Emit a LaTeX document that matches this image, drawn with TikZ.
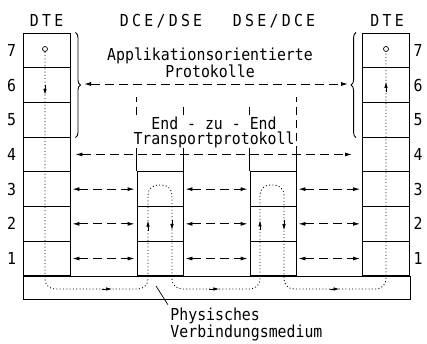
\documentclass[tikz,border=0pt]{standalone}
\usepackage{fontspec}
\newfontfamily\dinfont[FakeStretch=0.9]{DejaVu Sans Mono}
\newfontfamily\dinwide[FakeStretch=0.9,LetterSpace=20]{DejaVu Sans Mono}
\usetikzlibrary{arrows.meta,calc,decorations.pathreplacing,decorations.markings}
\newcommand\flowtip{\draw[solid, line width=0.8pt, -{Latex[length=6pt,width=3.5pt]}] (-10pt,0pt) -- (0pt,0pt);}

\begin{document}
\begin{tikzpicture}[x=1pt, y=-1pt, line width=0.9pt,
    cell/.style={draw, minimum width=47pt, minimum height=34.7pt, inner sep=0pt},
    relay/.style={cell, minimum width=46pt},
    num/.style={font=\dinfont\fontsize{16.5}{18}\selectfont},
    head/.style={font=\dinwide\fontsize{16.5}{18}\selectfont, anchor=base},
    txt/.style={font=\dinfont\fontsize{16.5}{15}\selectfont, align=center, inner sep=0pt},
    proto/.style={dash pattern=on 9pt off 5pt, {Latex[length=7pt,width=4pt]}-{Latex[length=7pt,width=4pt]}},
    lane/.style={dash pattern=on 8pt off 5pt},
    brc/.style={decorate, decoration={brace, amplitude=5pt}},
    port/.style={circle, draw, line width=0.7pt, inner sep=0pt, minimum size=5pt},
    signal/.style={dash pattern=on 1pt off 2.3pt, line width=0.8pt, rounded corners=10pt,
        postaction={decorate}, decoration={markings,
            mark=at position 43pt with {\flowtip},
            mark=at position 300pt with {\flowtip},
            mark=at position 400pt with {\flowtip},
            mark=at position 496pt with {\flowtip},
            mark=at position 598pt with {\flowtip},
            mark=at position 703pt with {\flowtip},
            mark=at position 799pt with {\flowtip},
            mark=at position 909pt with {\flowtip},
            mark=at position -30pt with {\flowtip}}}]
    \useasboundingbox (0,0) rectangle (427,344);

    \node[head] (dtel) at (46.5,27) {DTE};
    \node[head] (dce) at (161,27) {DCE/DSE};
    \node[head] (dse) at (274,27) {DSE/DCE};
    \node[head] (dter) at (387,27) {DTE};

    \foreach \k in {1,...,7} {
        \node[cell] (l\k) at (46.5,{33+(7.5-\k)*34.7}) {};
        \node[cell] (r\k) at (386,{33+(7.5-\k)*34.7}) {};
        \node[num] (nl\k) at (11.5,{33+(7.5-\k)*34.7}) {\k};
        \node[num] (nr\k) at (418,{33+(7.5-\k)*34.7}) {\k};
    }
    \foreach \k in {1,2,3} {
        \node[relay] (a\k) at (160,{33+(7.5-\k)*34.7}) {};
        \node[relay] (b\k) at (273,{33+(7.5-\k)*34.7}) {};
    }
    \node[draw, minimum width=387pt, minimum height=23pt, inner sep=0pt] (medium) at (216.5,287.5) {};

    \draw (a3.north west) -- ++(0,-17) coordinate (a3tl);
    \draw[lane] (a3tl) -- ++(0,-57);
    \draw (a3.north east) -- ++(0,-17) coordinate (a3tr);
    \draw[lane] (a3tr) -- ++(0,-51);
    \draw (b3.north west) -- ++(0,-17) coordinate (b3tl);
    \draw[lane] (b3tl) -- ++(0,-51);
    \draw (b3.north east) -- ++(0,-17) coordinate (b3tr);
    \draw[lane] (b3tr) -- ++(0,-57);

    \draw[brc] ($(l7.north east)+(5,0)$) -- ($(l5.south east)+(5,0)$);
    \draw[brc] ($(r5.south west)+(-6,0)$) -- ($(r7.north west)+(-6,0)$);

    \node[txt] (app) at (210,63) {Applikationsorientierte\\Protokolle};
    \coordinate (appl) at (84,84);
    \coordinate (appr) at (348,84);
    \draw[proto] (appl) -- (appr);

    \node[txt, fill=white, inner ysep=1pt, inner xsep=2pt] (e2e) at (214,132) {End - zu - End\\Transportprotokoll};
    \draw[proto, shorten <=5pt, shorten >=10pt] (l4) -- (r4);

    \foreach \k in {1,2,3} {
        \draw[proto, shorten <=2pt, shorten >=2pt] (l\k) -- (a\k);
        \draw[proto, shorten <=2pt, shorten >=2pt] (a\k) -- (b\k);
        \draw[proto, shorten <=2pt, shorten >=2pt] (b\k) -- (r\k);
    }

    \node[port] (src) at (45,49) {};
    \node[port] (dst) at (386,49) {};
    \draw[signal] (src) -- (45,289) -- (148,289) -- (148,185) -- (172,185) -- (172,289)
        -- (260,289) -- (260,185) -- (284,185) -- (284,289) -- (386,289) -- (dst);

    \node[txt, align=left, anchor=north west, font=\dinfont\fontsize{16.5}{17}\selectfont] (phys) at (170,308) {Physisches\\Verbindungsmedium};
    \coordinate (lead) at (156,286);
    \draw[line width=0.7pt, shorten >=4pt] (lead) -- (phys.north west);
\end{tikzpicture}
\end{document}
